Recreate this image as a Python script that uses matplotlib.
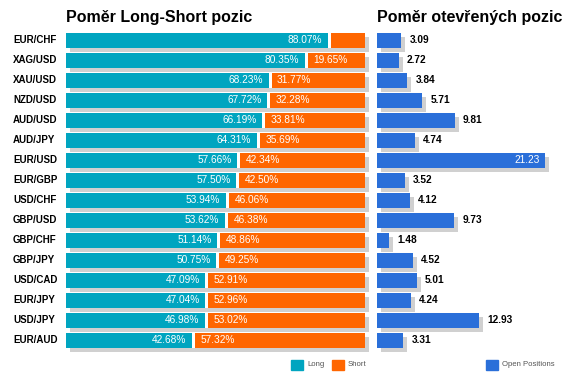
import matplotlib.pyplot as plt
from matplotlib.patches import Rectangle

plt.rcParams['font.family'] = ['Liberation Sans', 'DejaVu Sans']

# data
pairs = ['EUR/CHF', 'XAG/USD', 'XAU/USD', 'NZD/USD', 'AUD/USD', 'AUD/JPY',
         'EUR/USD', 'EUR/GBP', 'USD/CHF', 'GBP/USD', 'GBP/CHF', 'GBP/JPY',
         'USD/CAD', 'EUR/JPY', 'USD/JPY', 'EUR/AUD']
long_pct = [88.07, 80.35, 68.23, 67.72, 66.19, 64.31, 57.66, 57.50,
            53.94, 53.62, 51.14, 50.75, 47.09, 47.04, 46.98, 42.68]
short_pct = [11.93, 19.65, 31.77, 32.28, 33.81, 35.69, 42.34, 42.50,
             46.06, 46.38, 48.86, 49.25, 52.91, 52.96, 53.02, 57.32]
open_pos = [3.09, 2.72, 3.84, 5.71, 9.81, 4.74, 21.23, 3.52,
            4.12, 9.73, 1.48, 4.52, 5.01, 4.24, 12.93, 3.31]

TEAL = '#00a5c0'
ORANGE = '#ff6600'
BLUE = '#2a6fd9'
SHADOW = '#d0d0d0'

W, H = 576, 380
fig = plt.figure(figsize=(W / 100, H / 100), dpi=100)


def fx(x):
    return x / W


def fy(y):
    return 1 - y / H


n = len(pairs)
rows = list(range(n))
bh = 0.75
top_px, row_px = 30, 20
ax_bottom = fy(top_px + n * row_px)
ax_h = n * row_px / H

# ---- left panel: long / short ratio
ax1 = fig.add_axes([fx(66), ax_bottom, 299 / W, ax_h])
ax1.set_xlim(0, 100)
ax1.set_ylim(n - 0.5, -0.5)
dx1 = 4 / 2.99
dy = 4 / row_px
sh = ax1.barh([r + dy for r in rows], [100] * n, left=dx1, height=bh,
              color=SHADOW, zorder=1)
for p in sh:
    p.set_clip_on(False)
gap = 1.0
ax1.barh(rows, [l - gap / 2 for l in long_pct], height=bh, color=TEAL, zorder=2)
ax1.barh(rows, [s - gap / 2 for s in short_pct],
         left=[l + gap / 2 for l in long_pct], height=bh, color=ORANGE, zorder=2)
ax1.barh(rows, [gap] * n, left=[l - gap / 2 for l in long_pct], height=bh,
         color='white', zorder=2)
for r, l, s in zip(rows, long_pct, short_pct):
    ax1.annotate(f'{l:.2f}%', (l - gap / 2, r), xytext=(-4, 0),
                 textcoords='offset points', ha='right', va='center',
                 color='white', fontsize=7.3, zorder=3)
    if s > 15:
        ax1.annotate(f'{s:.2f}%', (l + gap / 2, r), xytext=(4, 0),
                     textcoords='offset points', ha='left', va='center',
                     color='white', fontsize=7.3, zorder=3)
ax1.axis('off')

for r, name in zip(rows, pairs):
    fig.text(fx(13), fy(top_px + row_px * r + 10), name, ha='left',
             va='center', fontsize=7, fontweight='bold')

# ---- right panel: open positions
ax2 = fig.add_axes([fx(377), ax_bottom, 190 / W, ax_h])
ax2.set_xlim(0, 24)
ax2.set_ylim(n - 0.5, -0.5)
dx2 = 4 / 7.91
sh2 = ax2.barh([r + dy for r in rows], open_pos, left=dx2, height=bh,
               color=SHADOW, zorder=1)
for p in sh2:
    p.set_clip_on(False)
ax2.barh(rows, open_pos, height=bh, color=BLUE, zorder=2)
for r, v in zip(rows, open_pos):
    if v > 20:
        ax2.annotate(f'{v:.2f}', (v, r), xytext=(-3.5, 0),
                     textcoords='offset points', ha='right', va='center',
                     color='white', fontsize=7.3, zorder=3)
    else:
        ax2.annotate(f'{v:.2f}', (v, r), xytext=(6, 0),
                     textcoords='offset points', ha='left', va='center',
                     color='black', fontsize=7.3, fontweight='bold', zorder=3)
ax2.axis('off')

# ---- titles
fig.text(fx(66), fy(22), 'Poměr Long-Short pozic', ha='left',
         va='baseline', fontsize=11.5, fontweight='bold')
fig.text(fx(377), fy(22), 'Poměr otevřených pozic', ha='left',
         va='baseline', fontsize=11.5, fontweight='bold')

# ---- legends
for x0, col, lab in [(291, TEAL, 'Long'), (332, ORANGE, 'Short'),
                     (486, BLUE, 'Open Positions')]:
    fig.add_artist(Rectangle((fx(x0), fy(370)), 12 / W, 10 / H,
                             transform=fig.transFigure, color=col))
    fig.text(fx(x0 + 16), fy(365), lab, ha='left', va='center',
             fontsize=5.6, color='#555555')

fig.savefig('out.png', dpi=100)
